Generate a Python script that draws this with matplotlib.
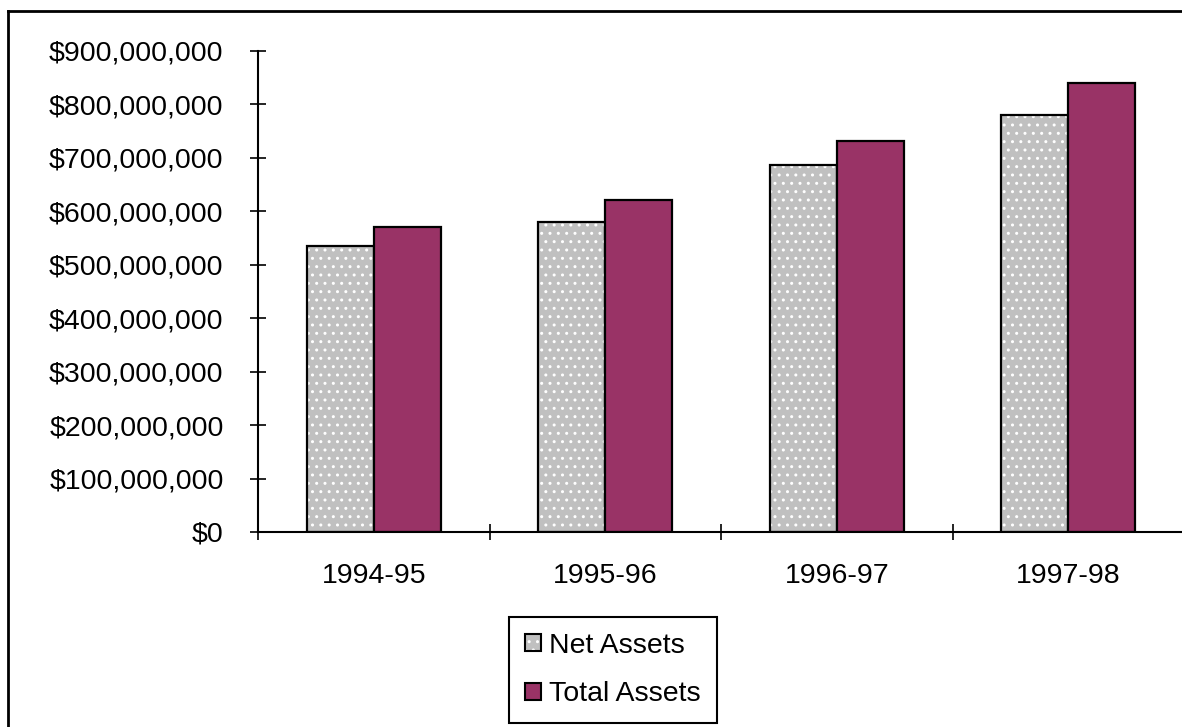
import matplotlib as mpl

mpl.use('Agg')
import matplotlib.pyplot as plt
from matplotlib.patches import Patch
from matplotlib.lines import Line2D
from matplotlib.legend_handler import HandlerTuple
from matplotlib.ticker import FuncFormatter
import numpy as np

years = ["1994-95", "1995-96", "1996-97", "1997-98"]
net_assets = [535e6, 580e6, 686e6, 781e6]
total_assets = [570e6, 621e6, 731e6, 841e6]

GRAY = '#C0C0C0'
MAROON = '#993366'

plt.rcParams['font.family'] = ['Liberation Sans', 'DejaVu Sans']
plt.rcParams['font.size'] = 20.5

fig = plt.figure(figsize=(11.82, 7.27), dpi=100)
# x axis runs a little past the right edge of the picture, as in the original
ax = fig.add_axes([258 / 1182, 1 - 532 / 727, (1184 - 258) / 1182, (532 - 51) / 727])

x = np.arange(len(years))
w = 0.29

# net assets: grey with white dots, then a black outline on top
ax.bar(x - w / 2, net_assets, w, color=GRAY, edgecolor='white', hatch='..', linewidth=0)
ax.bar(x - w / 2, net_assets, w, fill=False, edgecolor='black', linewidth=1.6)
ax.bar(x + w / 2, total_assets, w, color=MAROON, edgecolor='black', linewidth=1.6)

ax.set_xlim(-0.5, 3.5)
ax.set_ylim(0, 900e6)
ax.set_yticks(np.arange(0, 900e6 + 1, 100e6))
ax.yaxis.set_major_formatter(FuncFormatter(lambda v, p: "${:,.0f}".format(v)))

ax.set_xticks(x)
ax.set_xticklabels(years)
ax.set_xticks(np.arange(-0.5, 3, 1), minor=True)
ax.tick_params(axis='x', which='major', length=0, pad=22)
ax.tick_params(axis='x', which='minor', direction='inout', length=11, width=1.2)
ax.tick_params(axis='y', direction='inout', length=11.5, width=1.2, pad=19)

for s in ['top', 'right']:
    ax.spines[s].set_visible(False)
for s in ['left', 'bottom']:
    ax.spines[s].set_linewidth(1.5)

h_net = (Patch(facecolor=GRAY, edgecolor='white', hatch='..', linewidth=0),
         Patch(fill=False, edgecolor='black', linewidth=1.5))
h_tot = Patch(facecolor=MAROON, edgecolor='black', linewidth=1.5)
leg = fig.legend([h_net, h_tot], ["Net Assets", "Total Assets"],
                 handler_map={tuple: HandlerTuple(ndivide=1)},
                 loc='center', bbox_to_anchor=(613 / 1182, 1 - 670 / 727),
                 fancybox=False, framealpha=1, edgecolor='black',
                 handlelength=0.55, handleheight=0.55, handletextpad=0.3,
                 labelspacing=0.8, borderpad=0.55, borderaxespad=0)
leg.get_frame().set_linewidth(1.5)

# outer chart border, only top and left edges are visible in the original
bx, by = 8 / 1182, 1 - 11 / 727
fig.add_artist(Line2D([bx, 1.05], [by, by], transform=fig.transFigure,
                      color='black', linewidth=2))
fig.add_artist(Line2D([bx, bx], [-0.05, by], transform=fig.transFigure,
                      color='black', linewidth=2))

plt.savefig('out.png', dpi=100)
